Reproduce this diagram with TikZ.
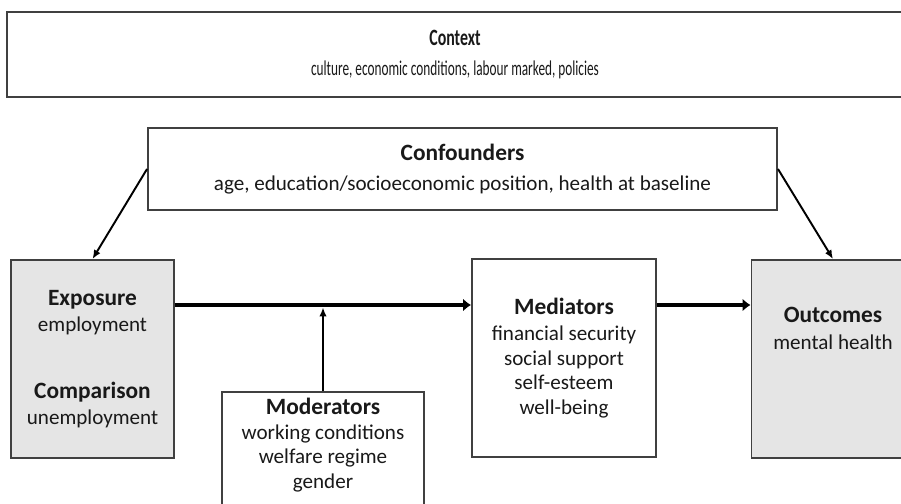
\documentclass[tikz,border=0pt]{standalone}
\usepackage{fontspec}
\setmainfont{Carlito}
\usepackage{graphicx}
\usetikzlibrary{arrows.meta}
\newcommand{\boxtitle}[1]{{\fontsize{13.3}{16}\selectfont\bfseries #1}}
\tikzset{%
  framebox/.style = {shape=rectangle, draw=black!75, line width=1.1pt,%
                     align=center, inner sep=0pt, text=black!90},%
  sidebox/.style  = {framebox, fill=gray!20,%
                     minimum width=3.26cm, minimum height=3.96cm},%
  boxtext/.style  = {align=center, inner sep=0pt, text=black!90},%
  flow/.style     = {line width=2.8pt, -{Latex[length=1.6mm,width=2.6mm]}},%
  link/.style     = {line width=1.1pt, -{Latex[length=1.8mm,width=1.5mm]}}%
}

\begin{document}
\begin{tikzpicture}[every node/.style = {font=\fontsize{12}{13.9}\selectfont}]
	\useasboundingbox (0,0) rectangle (18.02,-10.08);
	% context and confounders on top
	\node[framebox, minimum width=17.92cm, minimum height=1.70cm] (context) at (9.10,-1.09)
		{\scalebox{0.68}[1]{\boxtitle{Context}}\\[3pt]
		 \scalebox{0.63}[1]{culture, economic conditions, labour marked, policies}};
	\node[framebox, minimum width=12.58cm, minimum height=1.64cm] (confounders) at (9.25,-3.38)
		{\boxtitle{Confounders}\\[3pt]
		 age, education/socioeconomic position, health at baseline};
	% main row
	\node[sidebox] (exposure) at (1.85,-7.18)
		{\boxtitle{Exposure}\\[1pt] employment\\[24pt]
		 \boxtitle{Comparison}\\[1pt] unemployment};
	\node[framebox, minimum width=3.68cm, minimum height=3.96cm] (mediators) at (11.28,-7.16)
		{\boxtitle{Mediators}\\[1pt] financial security\\ social support\\ self-esteem\\ well-being};
	\node[sidebox] (outcomes) at (16.66,-7.18) {};
	\node[boxtext] (outcomestext) at (16.66,-6.57)
		{\boxtitle{Outcomes}\\[1pt] mental health};
	% moderators below
	\node[framebox, minimum width=4.04cm, minimum height=2.36cm] (moderators) at (6.46,-9.02) {};
	\node[boxtext] (moderatorstext) at (6.46,-8.90)
		{\boxtitle{Moderators}\\ working conditions\\ welfare regime\\ gender};
	% arrows
	\coordinate (flow) at (0,-6.10);
	\draw[flow] (exposure.east |- flow) -- (mediators.west |- flow);
	\draw[flow] (mediators.east |- flow) -- (outcomes.west |- flow);
	\draw[link, shorten >=1.4pt] (moderators.north) -- (moderators.north |- flow);
	\draw[link] (confounders.west) -- (exposure.north);
	\draw[link] (confounders.east) -- (outcomes.north);
\end{tikzpicture}
\end{document}
